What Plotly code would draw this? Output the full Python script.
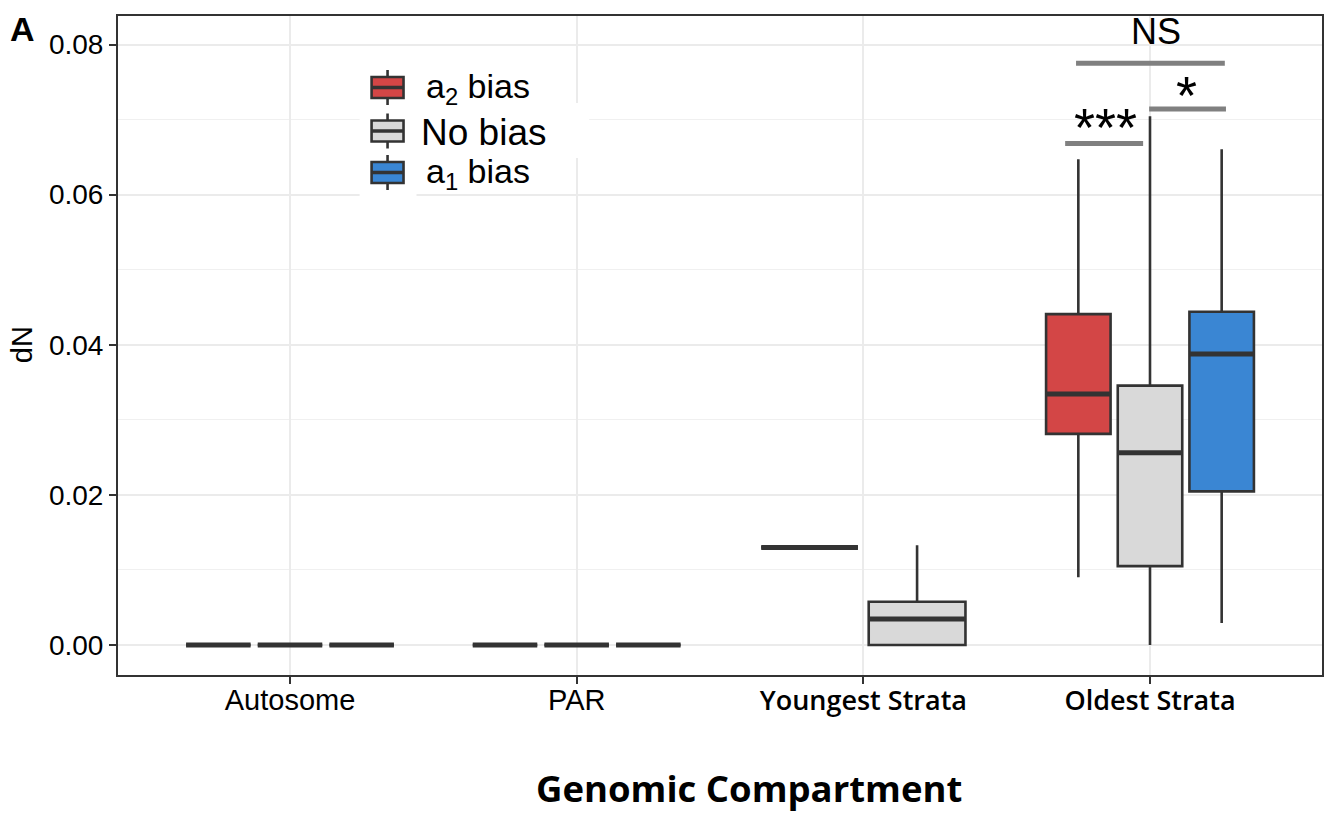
import plotly.graph_objects as go

# ---------------- data ----------------
categories = ["Autosome", "PAR", "Youngest Strata", "Oldest Strata"]
tick_text = [
    "Autosome",
    "PAR",
    "<span style='font-family:Open Sans;font-weight:600;font-size:27px'>Youngest Strata</span>",
    "<span style='font-family:Open Sans;font-weight:600;font-size:27px'>Oldest Strata</span>",
]
group_names = ["a<sub>2</sub> bias", "No bias", "a<sub>1</sub> bias"]
group_colors = ["#D34646", "#D9D9D9", "#3A86D3"]

# five-number summaries per category (None = group absent)
a2_lower = [0.0, 0.0, 0.0130, 0.00904]
a2_q1 = [0.0, 0.0, 0.0130, 0.02813]
a2_median = [0.0, 0.0, 0.0130, 0.03345]
a2_q3 = [0.0, 0.0, 0.0130, 0.04408]
a2_upper = [0.0, 0.0, 0.0130, 0.0647]

nb_lower = [0.0, 0.0, 0.0, 0.0]
nb_q1 = [0.0, 0.0, 0.0, 0.0105]
nb_median = [0.0, 0.0, 0.00346, 0.02561]
nb_q3 = [0.0, 0.0, 0.00575, 0.03455]
nb_upper = [0.0, 0.0, 0.01329, 0.07043]

a1_lower = [0.0, 0.0, None, 0.00292]
a1_q1 = [0.0, 0.0, None, 0.02047]
a1_median = [0.0, 0.0, None, 0.03876]
a1_q3 = [0.0, 0.0, None, 0.04439]
a1_upper = [0.0, 0.0, None, 0.06605]

# significance brackets (data coordinates)
sig_x0 = [3.704, 3.997, 3.742]
sig_x1 = [3.976, 4.265, 4.261]
sig_y = [0.0668, 0.0714, 0.07752]
sig_labels = ["***", "*", "NS"]
sig_label_x = [3.845, 4.127, 4.02]
sig_label_y = [0.0690, 0.0733, 0.0818]
sig_label_size = [54, 54, 36]

y_ticks = [0.0, 0.02, 0.04, 0.06, 0.08]
y_tick_text = ["0.00", "0.02", "0.04", "0.06", "0.08"]

# --------------- figure ---------------
stats = [
    (a2_lower, a2_q1, a2_median, a2_q3, a2_upper),
    (nb_lower, nb_q1, nb_median, nb_q3, nb_upper),
    (a1_lower, a1_q1, a1_median, a1_q3, a1_upper),
]

fig = go.Figure()
dark = "#333333"
med_x, med_y = [], []
dodge_total = 0.75
pad = 0.9

for ci in range(len(categories)):
    present = [g for g in range(3) if stats[g][2][ci] is not None]
    n = len(present)
    slot = dodge_total / n
    for j, g in enumerate(present):
        lo, q1, md, q3, hi = (s[ci] for s in stats[g])
        pos = (ci + 1) - dodge_total / 2 + slot * (j + 0.5)
        w = slot * pad
        fig.add_trace(go.Box(
            x=[pos], q1=[q1], median=[md], q3=[q3],
            lowerfence=[lo], upperfence=[hi],
            width=w, whiskerwidth=0, boxpoints=False,
            fillcolor=group_colors[g],
            line=dict(color=dark, width=2.6),
            name=group_names[g], legendgroup=group_names[g],
            showlegend=False,
            hoverinfo="skip",
        ))
        med_x += [pos - w / 2, pos + w / 2, None]
        med_y += [md, md, None]

fig.add_trace(go.Scatter(
    x=med_x, y=med_y, mode="lines",
    line=dict(color=dark, width=5),
    showlegend=False, hoverinfo="skip",
))

for x0, x1, y in zip(sig_x0, sig_x1, sig_y):
    fig.add_shape(type="line", x0=x0, x1=x1, y0=y, y1=y,
                  xref="x", yref="y", line=dict(color="#808080", width=5))
for lab, lx, ly, sz in zip(sig_labels, sig_label_x, sig_label_y, sig_label_size):
    fig.add_annotation(x=lx, y=ly, xref="x", yref="y", text=lab, showarrow=False,
                       xanchor="center", yanchor="middle",
                       font=dict(family="Liberation Sans, Arial", size=sz, color="black"))

W, H = 1327, 815
ml, mr, mt, mb = 118, 3, 16, 140
pw, ph = W - ml - mr, H - mt - mb

def px_x(p):
    return (p - ml) / pw

def px_y(p):
    return (H - mb - p) / ph

# ---- legend drawn as a key (ggplot style) ----
leg_bg = [(360, 575, 64, 103), (360, 590, 103, 158), (360, 575, 158, 192), (360, 417, 192, 198)]
for x0, x1, y0, y1 in leg_bg:
    fig.add_shape(type="rect", xref="paper", yref="paper",
                  x0=px_x(x0), x1=px_x(x1), y0=px_y(y1), y1=px_y(y0),
                  fillcolor="white", line=dict(width=0), layer="above")
leg_cy = [87.5, 131, 172.5]
leg_tx = [425, 420, 425]
leg_size = [34, 37, 34]
icon_cx, icon_hw, icon_hh, whisk_h = 388, 16, 10.5, 17.5
for g in range(3):
    cy = leg_cy[g]
    fig.add_shape(type="line", xref="paper", yref="paper",
                  x0=px_x(icon_cx), x1=px_x(icon_cx),
                  y0=px_y(cy + whisk_h), y1=px_y(cy - whisk_h),
                  line=dict(color=dark, width=2.6), layer="above")
    fig.add_shape(type="rect", xref="paper", yref="paper",
                  x0=px_x(icon_cx - icon_hw), x1=px_x(icon_cx + icon_hw),
                  y0=px_y(cy + icon_hh), y1=px_y(cy - icon_hh),
                  fillcolor=group_colors[g], line=dict(color=dark, width=2.6), layer="above")
    fig.add_shape(type="line", xref="paper", yref="paper",
                  x0=px_x(icon_cx - icon_hw), x1=px_x(icon_cx + icon_hw),
                  y0=px_y(cy), y1=px_y(cy),
                  line=dict(color=dark, width=3.5), layer="above")
    fig.add_annotation(x=px_x(leg_tx[g]), y=px_y(cy + 1.5), xref="paper", yref="paper",
                       text=group_names[g], showarrow=False,
                       xanchor="left", yanchor="middle",
                       font=dict(family="Liberation Sans, Arial", size=leg_size[g], color="black"))

fig.add_annotation(x=px_x(750), y=px_y(788), xref="paper", yref="paper",
                   text="Genomic Compartment", showarrow=False,
                   xanchor="center", yanchor="middle",
                   font=dict(family="Open Sans", size=36.5, color="black", weight=700))
fig.add_annotation(x=px_x(22), y=px_y(345), xref="paper", yref="paper",
                   text="dN", textangle=-90, showarrow=False,
                   xanchor="center", yanchor="middle",
                   font=dict(family="Liberation Sans, Arial", size=29, color="black"))
fig.add_annotation(x=px_x(22), y=px_y(29), xref="paper", yref="paper",
                   text="<b>A</b>", showarrow=False,
                   xanchor="center", yanchor="middle",
                   font=dict(family="Liberation Sans, Arial", size=34, color="black"))

fig.update_layout(
    width=W, height=H,
    margin=dict(l=ml, r=mr, t=mt, b=mb),
    paper_bgcolor="white", plot_bgcolor="white",
    boxmode="overlay", showlegend=False,
    font=dict(family="Liberation Sans, Arial", color="black"),
    xaxis=dict(
        range=[0.4, 4.6], tickmode="array",
        tickvals=[i + 1 for i in range(len(categories))], ticktext=tick_text,
        tickfont=dict(size=29, color="black"), ticklabelstandoff=-9,
        showgrid=True, gridcolor="#EBEBEB", gridwidth=2,
        zeroline=False, showline=True, mirror=True, linecolor=dark, linewidth=2,
        ticks="outside", ticklen=7, tickwidth=2, tickcolor=dark,
    ),
    yaxis=dict(
        range=[-0.004, 0.0838], tickmode="array",
        tickvals=y_ticks, ticktext=y_tick_text,
        tickfont=dict(size=28, color="black"),
        showgrid=True, gridcolor="#EBEBEB", gridwidth=2,
        minor=dict(dtick=0.01, tick0=0, showgrid=True, gridcolor="#F0F0F0", gridwidth=1),
        zeroline=False, showline=True, mirror=True, linecolor=dark, linewidth=2,
        ticks="outside", ticklen=7, tickwidth=2, tickcolor=dark,
    ),
)

fig.write_html("out.html")
